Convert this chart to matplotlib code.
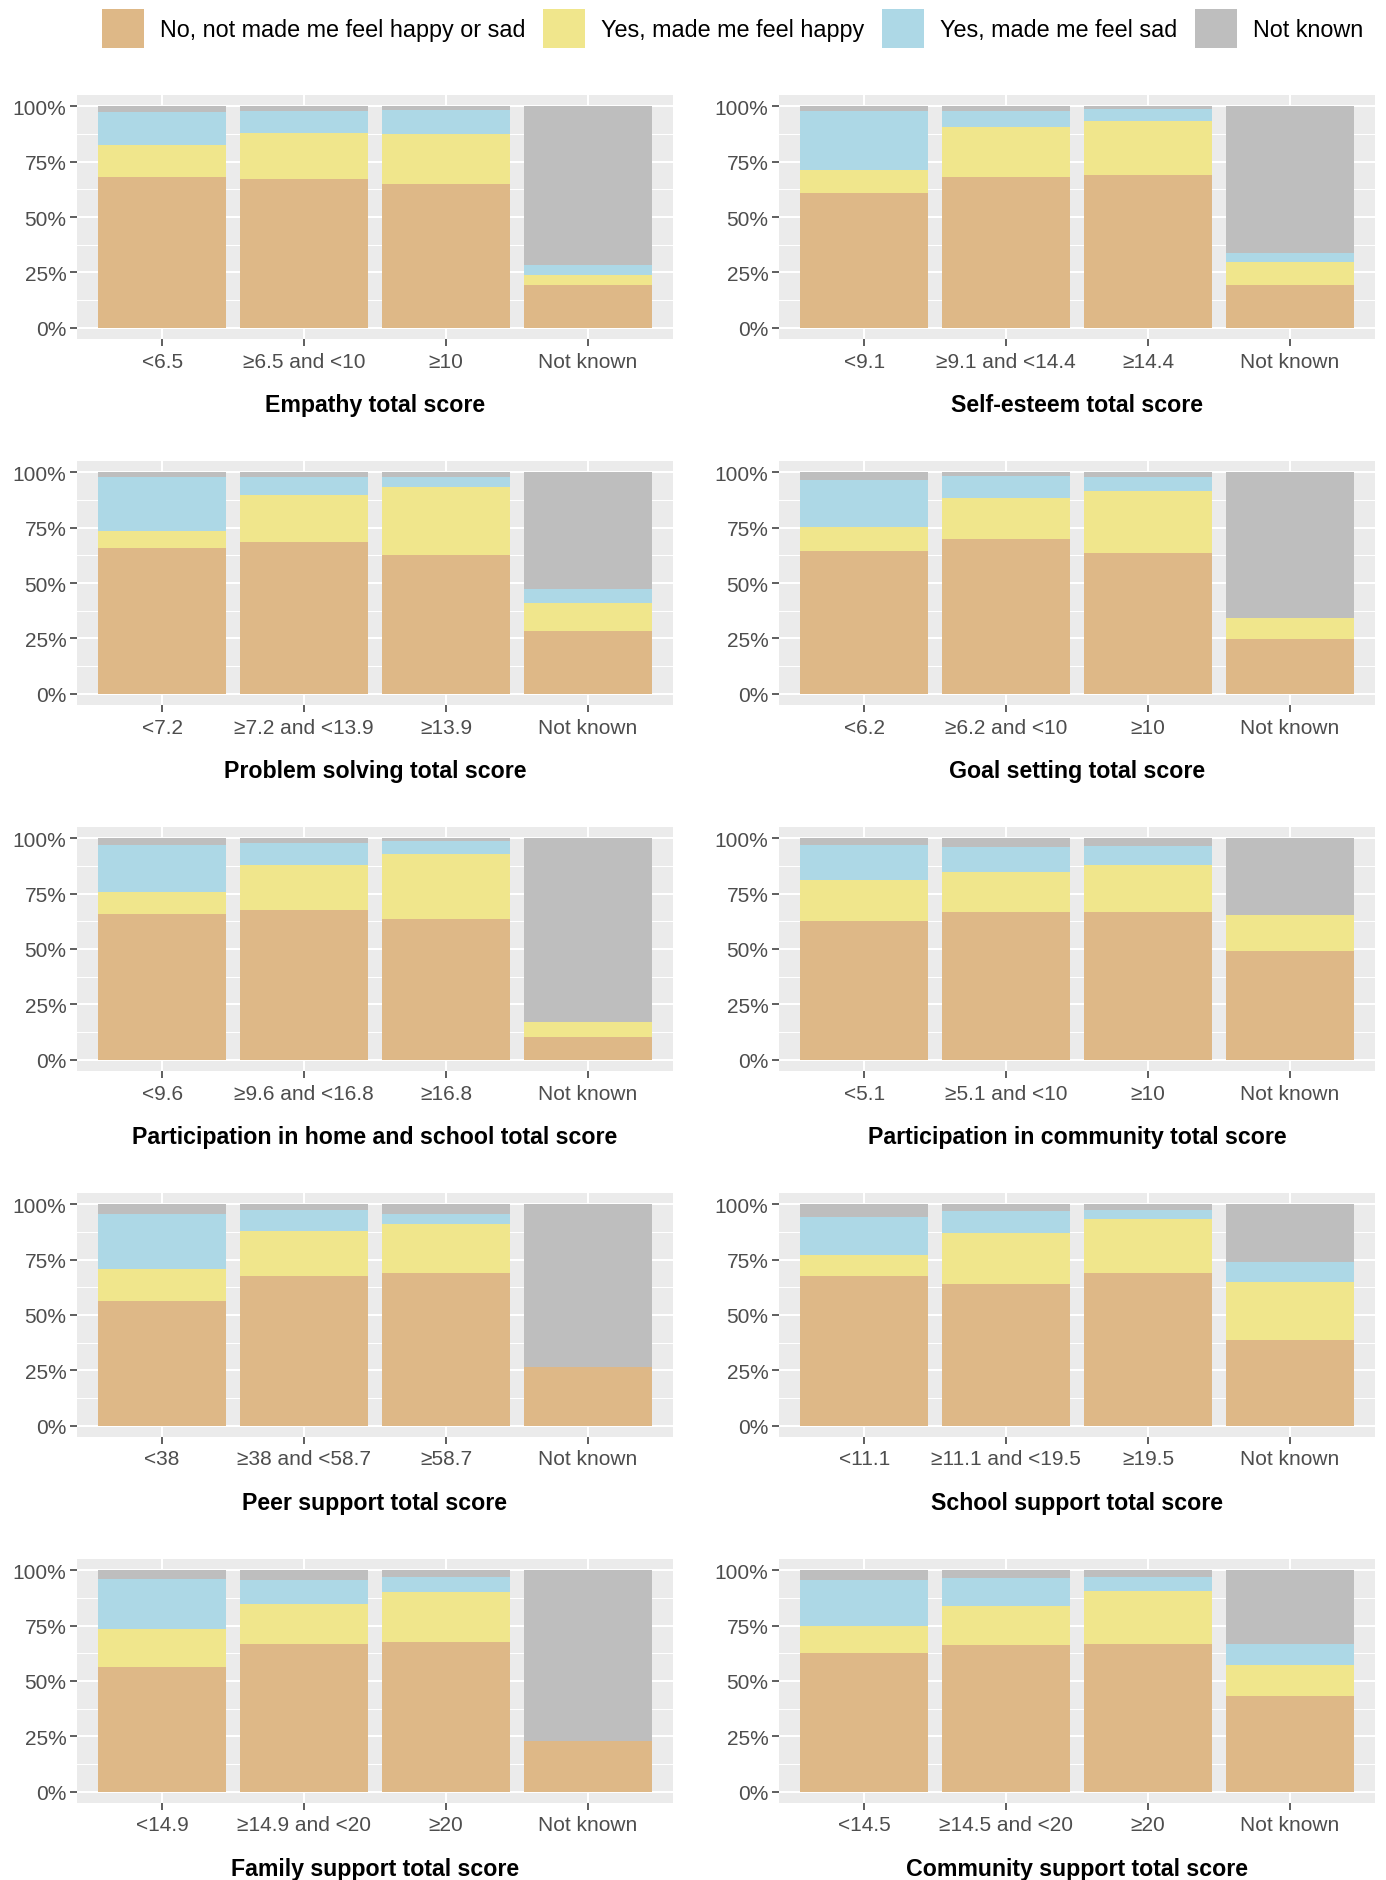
import numpy as np
import matplotlib.pyplot as plt
from matplotlib.patches import Patch

plt.rcParams['font.family'] = ['Liberation Sans', 'DejaVu Sans']

# stacked shares (%) per score band: no feeling / happy / sad / not known
panel_titles = [
    "Empathy total score",
    "Self-esteem total score",
    "Problem solving total score",
    "Goal setting total score",
    "Participation in home and school total score",
    "Participation in community total score",
    "Peer support total score",
    "School support total score",
    "Family support total score",
    "Community support total score",
]

band_labels = [
    ["<6.5", "\u22656.5 and <10", "\u226510", "Not known"],
    ["<9.1", "\u22659.1 and <14.4", "\u226514.4", "Not known"],
    ["<7.2", "\u22657.2 and <13.9", "\u226513.9", "Not known"],
    ["<6.2", "\u22656.2 and <10", "\u226510", "Not known"],
    ["<9.6", "\u22659.6 and <16.8", "\u226516.8", "Not known"],
    ["<5.1", "\u22655.1 and <10", "\u226510", "Not known"],
    ["<38", "\u226538 and <58.7", "\u226558.7", "Not known"],
    ["<11.1", "\u226511.1 and <19.5", "\u226519.5", "Not known"],
    ["<14.9", "\u226514.9 and <20", "\u226520", "Not known"],
    ["<14.5", "\u226514.5 and <20", "\u226520", "Not known"],
]

no_feeling = [
    [68.1, 67.3, 64.9, 19.3],
    [60.9, 68.2, 69.1, 19.5],
    [65.9, 68.6, 62.5, 28.5],
    [64.5, 69.8, 63.6, 24.7],
    [66.0, 67.4, 63.7, 10.2],
    [62.8, 66.5, 66.5, 48.9],
    [56.1, 67.5, 69.0, 26.7],
    [67.6, 64.1, 68.8, 38.9],
    [56.3, 66.5, 67.7, 23.1],
    [62.4, 66.3, 66.8, 43.2],
]
happy = [
    [14.3, 20.5, 22.5, 4.6],
    [10.5, 22.2, 24.1, 10.4],
    [7.7, 21.2, 30.8, 12.6],
    [10.9, 18.4, 27.9, 9.7],
    [9.7, 20.5, 29.3, 6.8],
    [18.4, 18.3, 21.5, 16.4],
    [14.7, 20.5, 22.2, 0.0],
    [9.6, 22.8, 24.4, 26.1],
    [17.3, 18.2, 22.4, 0.0],
    [12.4, 17.5, 23.6, 13.8],
]
sad = [
    [14.9, 9.8, 10.8, 4.5],
    [26.2, 7.3, 5.4, 3.8],
    [24.3, 7.9, 4.4, 6.1],
    [21.1, 10.0, 6.2, 0.0],
    [21.4, 9.8, 5.8, 0.0],
    [15.6, 11.0, 8.5, 0.0],
    [24.6, 9.3, 4.2, 0.0],
    [17.2, 9.8, 4.1, 8.9],
    [22.3, 10.7, 7.0, 0.0],
    [20.6, 12.6, 6.3, 9.6],
]
not_known = [
    [2.7, 2.4, 1.8, 71.6],
    [2.4, 2.3, 1.4, 66.3],
    [2.1, 2.3, 2.3, 52.8],
    [3.5, 1.8, 2.3, 65.6],
    [2.9, 2.3, 1.2, 83.0],
    [3.2, 4.2, 3.5, 34.7],
    [4.6, 2.7, 4.6, 73.3],
    [5.6, 3.3, 2.7, 26.1],
    [4.1, 4.6, 2.9, 76.9],
    [4.6, 3.6, 3.3, 33.4],
]

series_names = ["No, not made me feel happy or sad", "Yes, made me feel happy",
                "Yes, made me feel sad", "Not known"]
series_colors = ["#DEB887", "#F0E68C", "#ADD8E6", "#BEBEBE"]

W, H = 1386, 1881
fig = plt.figure(figsize=(W / 100, H / 100), dpi=100)

col_left = [77, 779]
panel_w = 596
panel_h = 244
row_top = 96
row_step = 366

for i, title in enumerate(panel_titles):
    r, c = divmod(i, 2)
    top = row_top + r * row_step
    ax = fig.add_axes([col_left[c] / W, 1 - (top + panel_h) / H, panel_w / W, panel_h / H])
    ax.set_facecolor("#EBEBEB")
    for s in ax.spines.values():
        s.set_visible(False)

    x = np.arange(1, 5)
    bottom = np.zeros(4)
    for vals, col in zip([no_feeling[i], happy[i], sad[i], not_known[i]], series_colors):
        v = np.array(vals) / 100
        ax.bar(x, v, width=0.9, bottom=bottom, color=col, linewidth=0, zorder=3)
        bottom += v

    ax.set_xlim(0.4, 4.6)
    ax.set_ylim(-0.05, 1.05)
    ax.set_yticks([0, 0.25, 0.5, 0.75, 1.0])
    ax.set_yticklabels(["0%", "25%", "50%", "75%", "100%"])
    ax.set_yticks([0.125, 0.375, 0.625, 0.875], minor=True)
    ax.set_xticks(x)
    ax.set_xticklabels(band_labels[i])
    ax.grid(which="major", color="white", linewidth=1.5, zorder=1)
    ax.grid(which="minor", axis="y", color="white", linewidth=0.75, zorder=1)
    ax.tick_params(which="major", length=5, width=1.1, color="#333333",
                   labelsize=15, labelcolor="#4D4D4D")
    ax.tick_params(axis="x", which="major", pad=4)
    ax.tick_params(axis="y", which="major", pad=2.5)
    ax.tick_params(which="minor", length=0)
    ax.set_axisbelow(True)
    ax.set_xlabel(title, fontsize=16.7, fontweight="bold", color="black", labelpad=16)

handles = [Patch(facecolor=col, edgecolor="none") for col in series_colors]
fig.legend(handles, series_names, loc="upper left", bbox_to_anchor=(102 / W, 1 - 10 / H),
           ncol=4, frameon=False, fontsize=16.8, borderpad=0, borderaxespad=0,
           handlelength=1.8, handleheight=2.2, handletextpad=0.69, columnspacing=0.75)

fig.savefig("out.png", dpi=100, facecolor="white")
